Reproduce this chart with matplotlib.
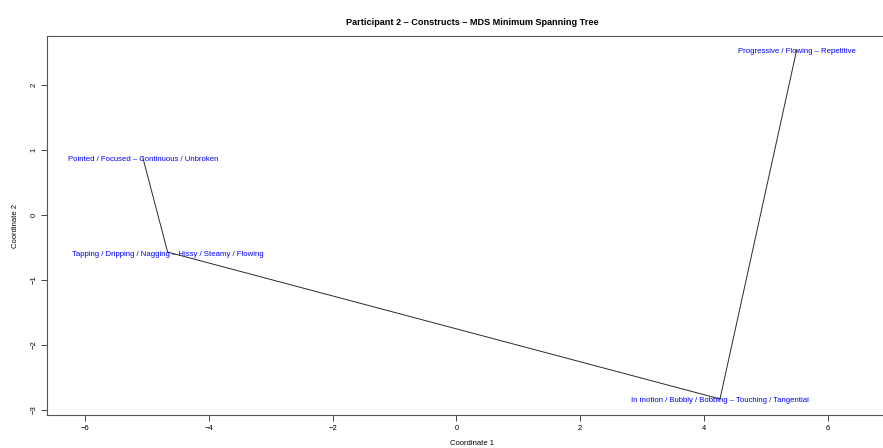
import matplotlib
matplotlib.use("Agg")
import matplotlib.pyplot as plt
from matplotlib.transforms import ScaledTranslation

# MDS coordinates of each construct
constructs = [
    "Pointed / Focused \u2013 Continuous / Unbroken",
    "Tapping / Dripping / Nagging \u2013 Hissy / Steamy / Flowing",
    "In motion / Bubbly / Bobbing \u2013 Touching / Tangential",
    "Progressive / Flowing \u2013 Repetitive",
]
coord1 = [-5.07, -4.67, 4.26, 5.50]
coord2 = [0.88, -0.57, -2.83, 2.54]

# minimum spanning tree edges (indices into constructs)
edges = [(0, 1), (1, 2), (2, 3)]

x_ticks = [-6, -4, -2, 0, 2, 4, 6]
y_ticks = [-3, -2, -1, 0, 1, 2]

plt.rcParams["font.family"] = ["Liberation Sans", "DejaVu Sans"]

fig = plt.figure(figsize=(8.83, 4.48), dpi=100)
left_px, right_px, top_px, bottom_px = 47, 897, 36, 415
ax = fig.add_axes([left_px / 883, 1 - bottom_px / 448,
                   (right_px - left_px) / 883, (bottom_px - top_px) / 448])

for a, b in edges:
    ax.plot([coord1[a], coord1[b]], [coord2[a], coord2[b]],
            color="#2a2a2a", linewidth=0.7, zorder=1)

# labels centred on their points (cap-height centring, nudged down slightly)
shift = ax.transData + ScaledTranslation(0, -2.0 / 100, fig.dpi_scale_trans)
for name, x, y in zip(constructs, coord1, coord2):
    ax.text(x, y, name, color="#0000ff", fontsize=5.6,
            ha="center", va="center", zorder=2, transform=shift)

ax.set_xlim(-6.62, (right_px - 456.6) / 61.84)
ax.set_ylim(-3.077, 2.754)
ax.set_xticks(x_ticks)
ax.set_xticklabels(["\u2212%d" % -t if t < 0 else str(t) for t in x_ticks])
ax.set_yticks(y_ticks)
ax.set_yticklabels(["\u2212%d" % -t if t < 0 else str(t) for t in y_ticks],
                   rotation=90, va="center")
ax.tick_params(axis="both", direction="out", length=4, width=0.7,
               color="#444444", labelsize=5.5, pad=3)

for s in ax.spines.values():
    s.set_linewidth(0.8)
    s.set_color("#555555")

ax.set_xlabel("Coordinate 1", fontsize=5.5, labelpad=6)
ax.set_ylabel("Coordinate 2", fontsize=5.5, labelpad=8)
ax.set_title("Participant 2 \u2013 Constructs \u2013 MDS Minimum Spanning Tree",
             fontsize=6.6, fontweight="bold", pad=8)

fig.savefig("out.png", dpi=100)
